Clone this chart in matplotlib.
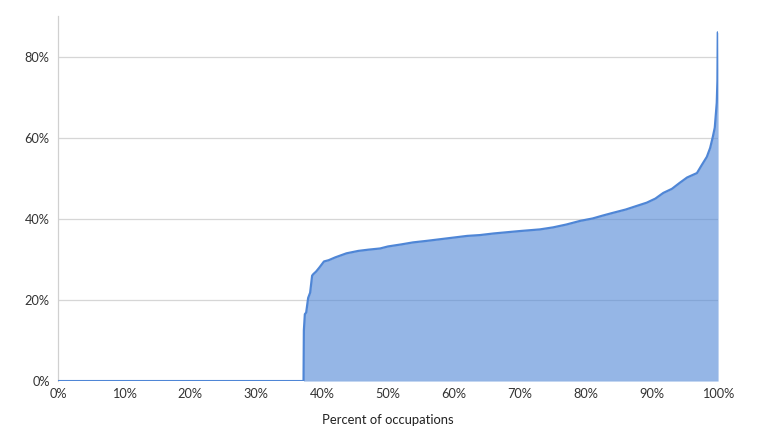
import matplotlib.pyplot as plt
from matplotlib.ticker import FuncFormatter

# Percent of occupations (x) vs share (y)
pct_occupations = [0, 37.2, 37.25, 37.4, 37.6, 37.9, 38.2, 38.5, 38.7, 39.1, 39.6,
                   40.3, 41.0, 42.0, 43.7, 45.5, 47.0, 48.8, 50.0, 52.0, 53.8,
                   56.0, 58.0, 60.0, 62.0, 63.9, 66.0, 68.0, 70.0, 73.0, 75.0,
                   77.0, 79.1, 81.0, 82.5, 84.1, 86.0, 87.5, 89.2, 90.5, 91.7,
                   93.0, 94.2, 95.3, 96.8, 97.5, 98.3, 98.8, 99.2, 99.5, 99.8,
                   99.9, 99.95, 100.0]
share_exposed = [0, 0, 12.5, 16.5, 16.9, 20.5, 21.8, 26.0, 26.4, 27.0, 28.0,
                 29.5, 29.8, 30.5, 31.5, 32.1, 32.4, 32.7, 33.2, 33.7, 34.2,
                 34.6, 35.0, 35.4, 35.8, 36.0, 36.4, 36.7, 37.0, 37.4, 37.9,
                 38.6, 39.5, 40.1, 40.8, 41.5, 42.3, 43.1, 44.0, 45.0, 46.4,
                 47.4, 48.9, 50.2, 51.3, 53.2, 55.3, 57.5, 60.2, 62.5, 68.6,
                 74.0, 86.0, 86.0]

y_ticks = [0, 20, 40, 60, 80]
x_ticks = [0, 10, 20, 30, 40, 50, 60, 70, 80, 90, 100]

plt.rcParams['font.family'] = ['Lato', 'DejaVu Sans']

fig = plt.figure(figsize=(7.68, 4.36), dpi=100)
ax = fig.add_axes([0.0755, 0.126, 0.8595, 0.837])

# grid sits under a semi-transparent fill so it shows through slightly darker
ax.grid(axis='y', color='#d6d6d6', linewidth=0.9, zorder=0)
ax.set_axisbelow(True)
ax.fill_between(pct_occupations, share_exposed, 0, color='#4f86d6', alpha=0.6,
                linewidth=0, zorder=1)
ax.plot(pct_occupations, share_exposed, color='#4f86d6', linewidth=1.6, zorder=3)

ax.set_xlim(0, 100)
ax.set_ylim(0, 90)
ax.set_xticks(x_ticks)
ax.set_yticks(y_ticks)
pct = FuncFormatter(lambda v, p: f'{int(v)}%')
ax.xaxis.set_major_formatter(pct)
ax.yaxis.set_major_formatter(pct)
ax.tick_params(length=0, labelsize=9.2, colors='#333333', pad=6)
ax.tick_params(axis='x', pad=5)

for s in ['top', 'right', 'bottom']:
    ax.spines[s].set_visible(False)
ax.spines['left'].set_color('#d0d0d0')
ax.spines['left'].set_linewidth(0.9)

ax.set_xlabel('Percent of occupations', fontsize=9.4, color='#222222', labelpad=10)

fig.savefig('out.png', dpi=100, facecolor='white')
